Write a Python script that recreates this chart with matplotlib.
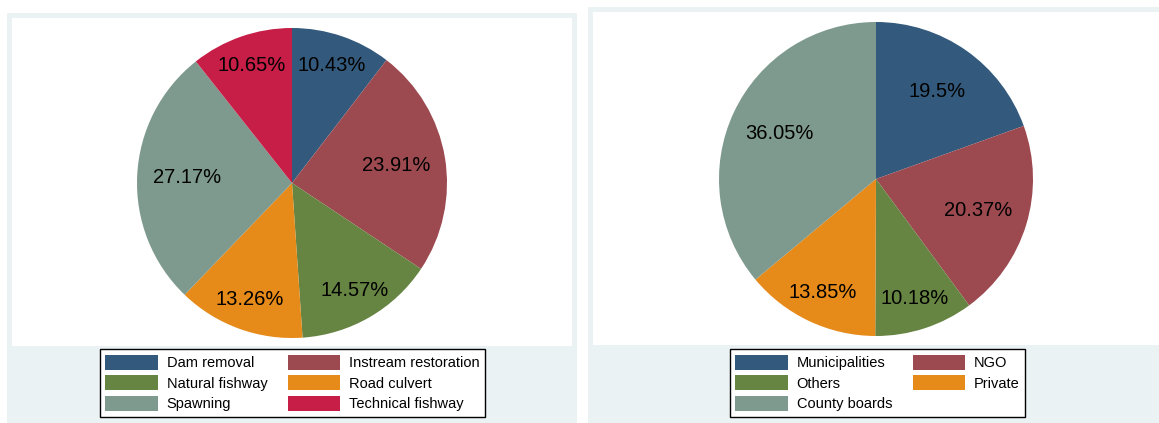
import numpy as np
import matplotlib
matplotlib.use("Agg")
import matplotlib.pyplot as plt
from matplotlib.patches import Rectangle, Patch

plt.rcParams['font.family'] = ['Liberation Sans', 'DejaVu Sans']

# share of measures by type (%)
measure_types = ['Dam removal', 'Instream restoration', 'Natural fishway',
                 'Road culvert', 'Spawning', 'Technical fishway']
measure_pct = [10.43, 23.91, 14.57, 13.26, 27.17, 10.65]

# share of measures by organisation (%)
organisations = ['Municipalities', 'NGO', 'Others', 'Private', 'County boards']
organisation_pct = [19.5, 20.37, 10.18, 13.85, 36.05]

# stata s2color-ish palette
colors = ['#335a7c', '#9c4a50', '#668442', '#e68a1a', '#7e9a8e', '#c71e47']

BG = '#eaf2f3'
W, H = 1159, 423

fig = plt.figure(figsize=(W / 100, H / 100), dpi=100)
fig.patch.set_facecolor('white')


def box(x0, y0, x1, y1, color):
    # pixel coords from top-left
    fig.add_artist(Rectangle((x0 / W, 1 - y1 / H), (x1 - x0) / W, (y1 - y0) / H,
                             transform=fig.transFigure, facecolor=color,
                             edgecolor='none', zorder=0))


# graph regions and white plot regions
box(7, 13, 577, 423, BG)
box(12, 18, 572, 346, 'white')
box(588, 7, 1159, 423, BG)
box(593, 12, 1159, 345, 'white')


def pie_panel(cx, cy, r, values, labels, legend_order, legend_center):
    ax = fig.add_axes([(cx - r) / W, 1 - (cy + r) / H, 2 * r / W, 2 * r / H])
    ax.pie(values, colors=colors[:len(values)], startangle=90, counterclock=False,
           radius=1, wedgeprops=dict(edgecolor='none'))

    # value labels at the wedge middles, small wedges pushed outwards
    total = sum(values)
    start = 90.0
    for v in values:
        span = v / total * 360
        mid = np.deg2rad(start - span / 2)
        d = 0.80 if v < 15 else 0.68
        ax.text(d * np.cos(mid), d * np.sin(mid), f'{v:g}%', ha='center', va='center',
                fontsize=14.5, color='black')
        start -= span
    ax.set_xlim(-1, 1)
    ax.set_ylim(-1, 1)
    ax.set_aspect('equal')
    ax.axis('off')

    handles = [Patch(facecolor=colors[i], edgecolor='none') for i in legend_order]
    names = [labels[i] for i in legend_order]
    lx, ly = legend_center
    leg = fig.legend(handles, names, ncol=2, loc='center',
                     bbox_to_anchor=(lx / W, 1 - ly / H), fontsize=10.5,
                     frameon=True, fancybox=False, edgecolor='black',
                     facecolor='white', framealpha=1, handlelength=3.6,
                     handleheight=1.2, handletextpad=0.6, columnspacing=1.4,
                     labelspacing=0.35, borderpad=0.4, borderaxespad=0)
    leg.get_frame().set_linewidth(1.0)
    return ax


pie_panel(292, 183, 155, measure_pct, measure_types, [0, 2, 4, 1, 3, 5], (292.5, 383))
pie_panel(876, 179, 157, organisation_pct, organisations, [0, 2, 4, 1, 3], (877.5, 383))

fig.savefig('out.png', dpi=100, facecolor='white')
